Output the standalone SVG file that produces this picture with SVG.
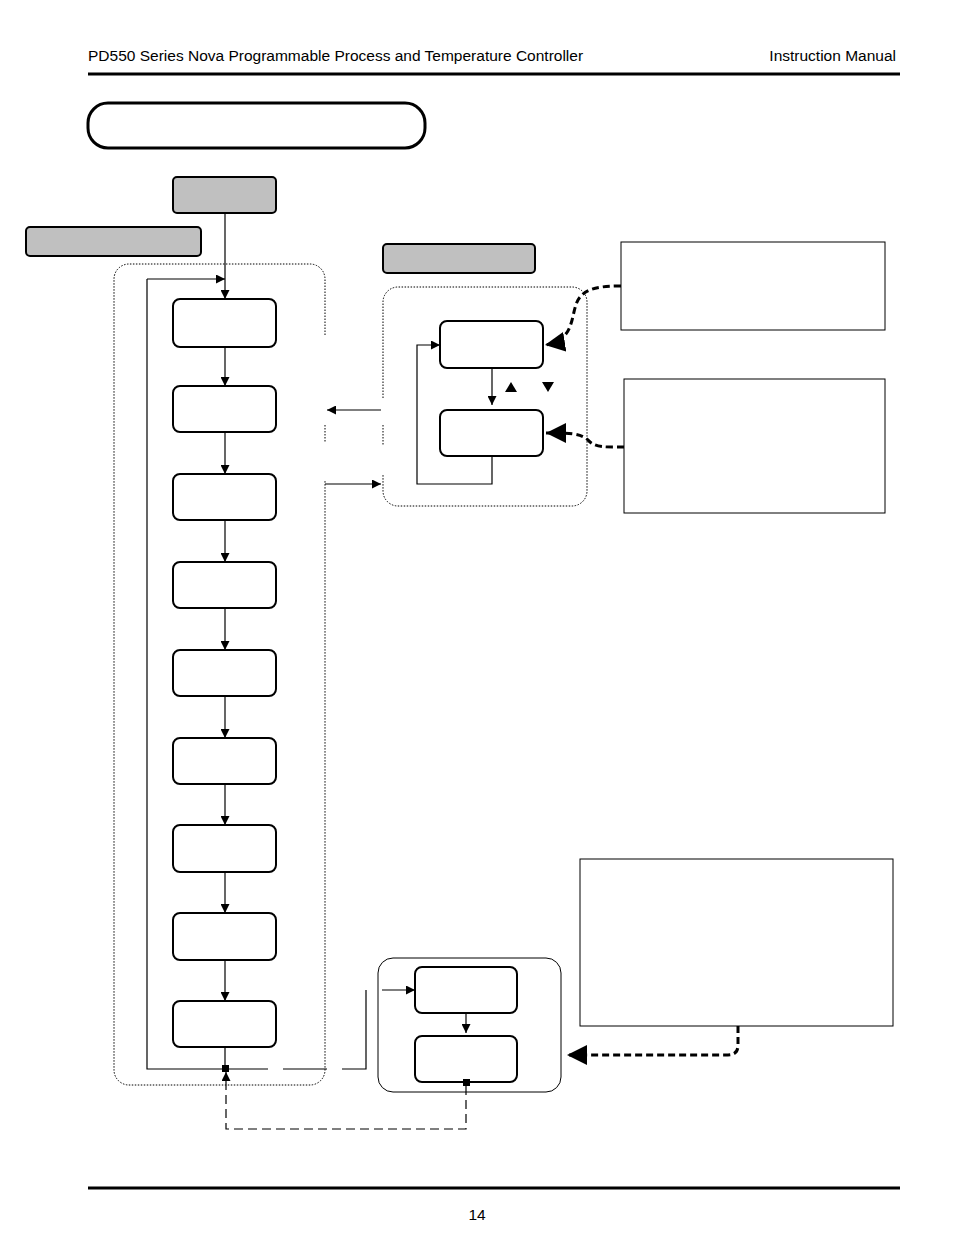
<svg xmlns="http://www.w3.org/2000/svg" width="954" height="1247" viewBox="0 0 954 1247">
<style>
text{font-family:"Liberation Sans",Arial,sans-serif;font-size:15.5px;fill:#000}
.n{fill:#fff;stroke:#000;stroke-width:2}
.g{fill:#c0c0c0;stroke:#000;stroke-width:2}
.c{fill:none;stroke:#000;stroke-width:1.2}
.dot{fill:none;stroke:#000;stroke-width:1;stroke-dasharray:1.5 1.5}
.note{fill:#fff;stroke:#000;stroke-width:1}
.bd{fill:none;stroke:#000;stroke-width:3;stroke-dasharray:7 4}
.ld{fill:none;stroke:#000;stroke-width:1.2;stroke-dasharray:9 5}
</style>
<defs>
<marker id="a" viewBox="0 0 10 10" refX="10" refY="5" markerWidth="9" markerHeight="9" markerUnits="userSpaceOnUse" orient="auto"><path d="M0,0L10,5L0,10z"/></marker>
<marker id="b" viewBox="0 0 10 10" refX="10" refY="5" markerWidth="20" markerHeight="20" markerUnits="userSpaceOnUse" orient="auto"><path d="M0,0L10,5L0,10z"/></marker>
</defs>
<text x="88" y="61">PD550 Series Nova Programmable Process and Temperature Controller</text>
<text x="896" y="61" text-anchor="end">Instruction Manual</text>
<line x1="88" y1="74" x2="900" y2="74" stroke="#000" stroke-width="3"/>
<line x1="88" y1="1188" x2="900" y2="1188" stroke="#000" stroke-width="3"/>
<text x="477" y="1220" text-anchor="middle">14</text>
<rect x="88" y="103" width="337" height="45" rx="20" fill="#fff" stroke="#000" stroke-width="3"/>
<g id="containers">
<path class="dot" d="M325,335V279a15,15 0 0 0-15-15H129a15,15 0 0 0-15,15V1070a15,15 0 0 0 15,15H310a15,15 0 0 0 15-15V480M325,425V443"/>
<path class="dot" d="M383,398V302a15,15 0 0 1 15-15H572a15,15 0 0 1 15,15V491a15,15 0 0 1-15,15H398a15,15 0 0 1-15-15V475M383,425V445"/>
<rect x="378" y="958" width="183" height="134" rx="15" fill="none" stroke="#000" stroke-width="1"/>
</g>
<g id="tabs">
<rect id="t1" class="g" x="173" y="177" width="103" height="36" rx="4"/>
<rect id="t2" class="g" x="26" y="227" width="175" height="29" rx="4"/>
<rect id="t3" class="g" x="383" y="244" width="152" height="29" rx="4"/>
</g>
<g id="nodes">
<rect id="n1" class="n" x="173" y="299" width="103" height="48" rx="7"/>
<rect id="n2" class="n" x="173" y="386" width="103" height="46" rx="7"/>
<rect id="n3" class="n" x="173" y="474" width="103" height="46" rx="7"/>
<rect id="n4" class="n" x="173" y="562" width="103" height="46" rx="7"/>
<rect id="n5" class="n" x="173" y="650" width="103" height="46" rx="7"/>
<rect id="n6" class="n" x="173" y="738" width="103" height="46" rx="7"/>
<rect id="n7" class="n" x="173" y="825" width="103" height="47" rx="7"/>
<rect id="n8" class="n" x="173" y="913" width="103" height="47" rx="7"/>
<rect id="n9" class="n" x="173" y="1001" width="103" height="46" rx="7"/>
<rect id="r1" class="n" x="440" y="321" width="103" height="47" rx="7"/>
<rect id="r2" class="n" x="440" y="410" width="103" height="46" rx="7"/>
<rect id="b1" class="n" x="415" y="967" width="102" height="46" rx="7"/>
<rect id="b2" class="n" x="415" y="1036" width="102" height="46" rx="7"/>
<rect id="note1" class="note" x="621" y="242" width="264" height="88"/>
<rect id="note2" class="note" x="624" y="379" width="261" height="134"/>
<rect id="note3" class="note" x="580" y="859" width="313" height="167"/>
</g>
<g id="connectors">
<path class="c" marker-end="url(#a)" d="M225,213V299"/>
<path class="c" marker-end="url(#a)" d="M225,347V386"/>
<path class="c" marker-end="url(#a)" d="M225,432V474"/>
<path class="c" marker-end="url(#a)" d="M225,520V562"/>
<path class="c" marker-end="url(#a)" d="M225,608V650"/>
<path class="c" marker-end="url(#a)" d="M225,696V738"/>
<path class="c" marker-end="url(#a)" d="M225,784V825"/>
<path class="c" marker-end="url(#a)" d="M225,872V913"/>
<path class="c" marker-end="url(#a)" d="M225,960V1001"/>
<path class="c" d="M225,1047V1069M268,1069H147V279"/>
<path class="c" marker-end="url(#a)" d="M147,279H225"/>
<path class="c" d="M283,1069H327M342,1069H366V990"/>
<path class="c" marker-end="url(#a)" d="M382,990H415"/>
<path class="c" marker-end="url(#a)" d="M466,1013V1033"/>
<rect x="222" y="1065" width="7" height="7"/>
<rect x="463" y="1079" width="7" height="7"/>
<path class="ld" marker-end="url(#a)" d="M466,1086V1129H226V1072"/>
<path class="c" marker-end="url(#a)" d="M381,410H327"/>
<path class="c" marker-end="url(#a)" d="M325,484H381"/>
<path class="c" marker-end="url(#a)" d="M492,368V405"/>
<path class="c" marker-end="url(#a)" d="M492,456V484H417V345H440"/>
<path d="M505,392L511,382L517,392z"/>
<path d="M542,382L554,382L548,392z"/>
<path class="bd" marker-end="url(#b)" d="M621,286C600,286 585,288 578,300C570,315 576,340 545,345"/>
<path class="bd" marker-end="url(#b)" d="M624,447C605,447 595,448 588,440C580,433 570,433 546,433"/>
<path class="bd" marker-end="url(#b)" d="M738,1026V1045Q738,1055 728,1055H567"/>
</g>
</svg>
